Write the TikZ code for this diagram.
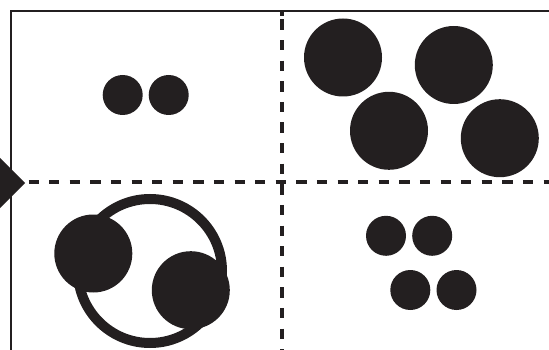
\documentclass[tikz,border=0pt]{standalone}
\usepackage{xcolor}
\usepackage{tikz}
\definecolor{ink}{HTML}{231F20}
\tikzset{
  frameline/.style={draw=ink,line width=2pt},
  gridline/.style={draw=ink,line width=3.2pt,dash pattern=on 10.3pt off 10.3pt},
  smalldot/.style={circle,fill=ink,inner sep=0pt,minimum size=40pt},
  bigdot/.style={circle,fill=ink,inner sep=0pt,minimum size=78pt},
  ringshape/.style={circle,draw=ink,line width=10pt,inner sep=0pt,minimum size=144pt}
}

\begin{document}
\begin{tikzpicture}[x=1pt,y=-1pt]
  \useasboundingbox (0,0) rectangle (549,350);
  \clip (0,0) rectangle (549,350);
  % frame and quadrant lines
  \coordinate (tl) at (11,11);
  \coordinate (br) at (560,350.7);
  \draw[frameline] (tl) rectangle (br);
  \coordinate (hstart) at (28.5,182);
  \coordinate (hend) at (560,182);
  \coordinate (vstart) at (282,19.5);
  \coordinate (vend) at (282,360);
  \draw[gridline] (hstart) -- (hend);
  \draw[gridline] (vstart) -- (vend);
  \draw[ink,line width=3.2pt] (282,11) -- (282,16);
  % pointer at the left
  \coordinate (tip) at (25,183);
  \fill[ink] (-4,154) -- (tip) -- (-4,212) -- cycle;
  % top left
  \node[smalldot] (tla) at (122.7,95) {};
  \node[smalldot] (tlb) at (168.7,95) {};
  % top right
  \node[bigdot] (tra) at (343,57.5) {};
  \node[bigdot] (trb) at (453.8,65) {};
  \node[bigdot] (trc) at (389,130.8) {};
  \node[bigdot] (trd) at (499.8,138.2) {};
  % bottom left
  \node[ringshape] (ring) at (150,271) {};
  \node[bigdot] (bla) at (93.3,253.5) {};
  \node[bigdot] (blb) at (190.8,290.2) {};
  % bottom right
  \node[smalldot] (bra) at (386,235.8) {};
  \node[smalldot] (brb) at (432.2,235.8) {};
  \node[smalldot] (brc) at (410.3,290) {};
  \node[smalldot] (brd) at (456.5,290) {};
\end{tikzpicture}
\end{document}
